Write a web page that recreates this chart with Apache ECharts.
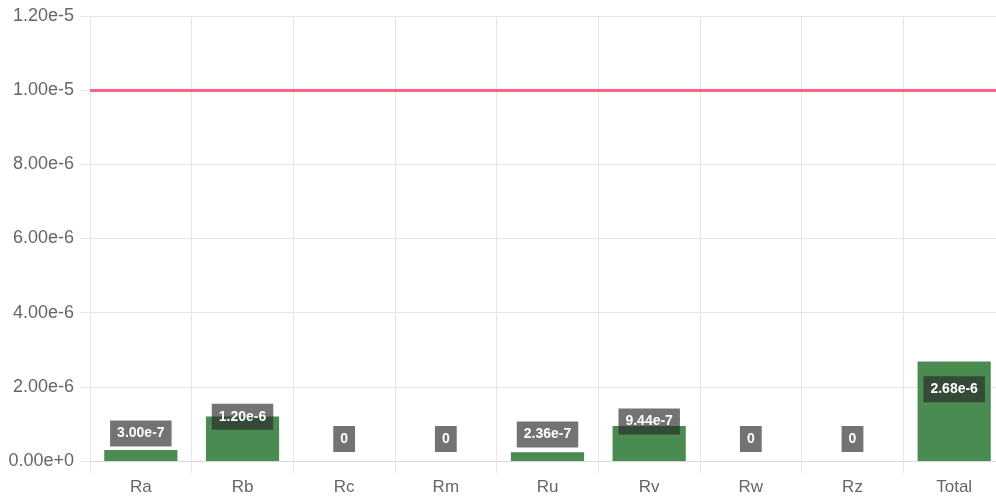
<!DOCTYPE html>
<html>
<head>
  <meta charset="UTF-8">
  <title>Bar chart</title>
  <script src="https://cdn.jsdelivr.net/npm/echarts@6/dist/echarts.min.js"></script>
  <style>
    html, body { margin: 0; padding: 0; background: #fff; overflow: hidden; }
    #chart { width: 1010px; height: 497px; }
  </style>
</head>
<body>
<div id="chart"></div>
<script>
  // data
  const categories = ["Ra", "Rb", "Rc", "Rm", "Ru", "Rv", "Rw", "Rz", "Total"];
  const values = [3.00e-7, 1.20e-6, 0, 0, 2.36e-7, 9.44e-7, 0, 0, 2.68e-6];
  const limitValue = 1.0e-5;
  const yMax = 1.2e-5;
  const yStep = 2e-6;

  // echarts rounds very small numbers in markers, so plot in micro units
  const unit = 1e-6;
  const toUnit = v => Math.round(v / unit * 1e6) / 1e6;
  const fmt = v => v.toExponential(2);

  const gridColor = "#e6e6e6";
  const textColor = "#666";

  const chart = echarts.init(document.getElementById("chart"));

  chart.setOption({
    animation: false,
    grid: { left: 90, top: 16, bottom: 36, right: 5 },
    xAxis: {
      type: "category",
      data: categories,
      axisLine: { lineStyle: { color: "#d9d9d9" } },
      axisTick: { show: true, length: 12, lineStyle: { color: gridColor } },
      splitLine: { show: true, lineStyle: { color: gridColor } },
      axisLabel: { color: textColor, fontSize: 17, fontFamily: "Liberation Sans, Arial", margin: 18 }
    },
    yAxis: {
      type: "value",
      min: 0,
      max: toUnit(yMax),
      interval: toUnit(yStep),
      axisLine: { show: true, lineStyle: { color: gridColor } },
      axisTick: { show: true, length: 10, lineStyle: { color: gridColor } },
      splitLine: { lineStyle: { color: gridColor } },
      axisLabel: {
        color: textColor,
        fontSize: 18,
        fontFamily: "Liberation Sans, Arial",
        margin: 16,
        formatter: v => fmt(v * unit)
      }
    },
    series: [{
      type: "bar",
      data: values.map(toUnit),
      barWidth: "72%",
      itemStyle: { color: "#4a8b52" },
      label: {
        show: true,
        position: "inside",
        offset: [0, -22],
        color: "#fff",
        fontSize: 14,
        fontWeight: "bold",
        fontFamily: "Liberation Sans, Arial",
        backgroundColor: "rgba(40,40,40,0.65)",
        padding: [6, 7],
        formatter: p => p.value === 0 ? "0" : fmt(p.value * unit)
      },
      markLine: {
        silent: true,
        symbol: "none",
        label: { show: false },
        lineStyle: { color: "#ff6384", width: 3, type: "solid" },
        data: [{ yAxis: toUnit(limitValue) }]
      }
    }]
  });
</script>
</body>
</html>
